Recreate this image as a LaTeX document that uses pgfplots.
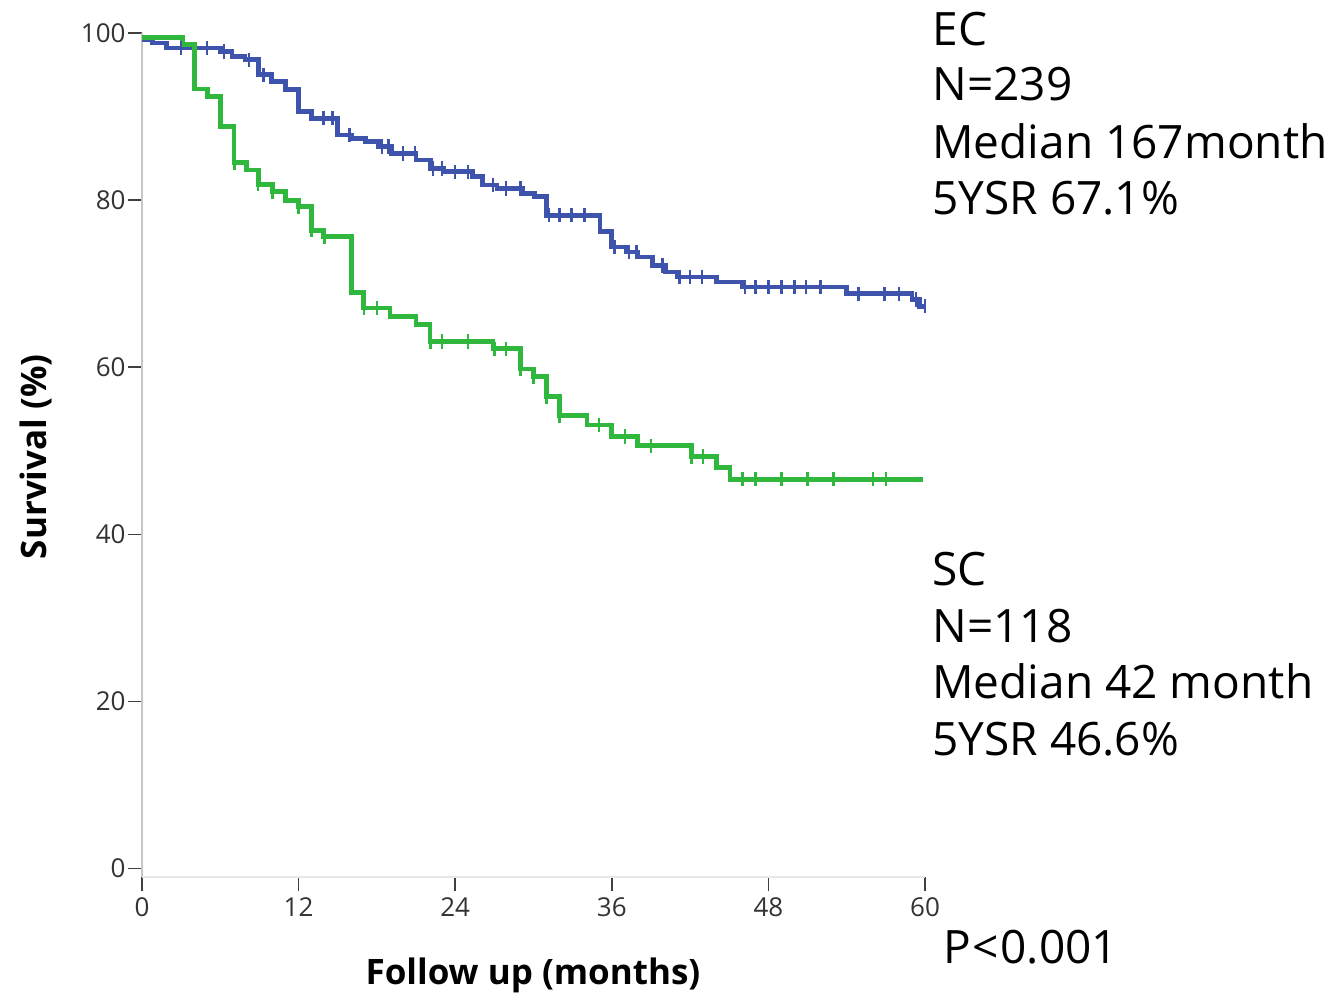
\documentclass[border=0pt]{standalone}
\usepackage{pgfplots}
\pgfplotsset{compat=1.18}
\usepackage{fontspec}
\setmainfont{Open Sans}

\definecolor{ecblue}{RGB}{62,84,172}
\definecolor{scgreen}{RGB}{48,184,62}

\begin{document}
\begin{tikzpicture}
\begin{axis}[
    scale only axis,
    width=391.5pt, height=422pt,
    xmin=0, xmax=60,
    ymin=-1, ymax=100,
    clip=false,
    axis x line*=bottom,
    axis y line*=left,
    x axis line style={draw=black!9, line width=1pt, -},
    y axis line style={draw=black!22, line width=1.4pt, -},
    xtick={0,12,24,36,48,60},
    ytick={0,20,40,60,80,100},
    tick align=outside,
    major tick length=7pt,
    tick style={draw=black!75, line width=0.8pt},
    ticklabel style={font=\fontsize{13}{15}\selectfont, text=black!80},
    /pgf/number format/assume math mode=true,
    yticklabel style={inner xsep=1pt},
    xticklabel style={inner ysep=3pt},
]
% EC (blue) Kaplan-Meier step curve
\addplot[const plot, color=ecblue, line width=2.4pt] coordinates {
    (0,99.2) (0.8,98.8) (1.9,98.2) (6.0,97.8) (6.9,97.2) (7.9,96.8)
    (8.9,95.0) (9.9,94.2) (11.0,93.2) (12.0,90.6) (13.0,89.8) (15.0,87.8)
    (16.1,87.4) (17.1,87.0) (18.1,86.4) (19.1,85.6) (21.0,84.8) (22.1,83.8)
    (23.1,83.4) (25.3,82.8) (26.1,81.8) (27.2,81.4) (29.2,80.8) (30.1,80.4)
    (31.0,78.2) (35.1,76.2) (36.0,74.4) (37.1,73.8) (38.0,73.2) (39.1,72.2)
    (40.1,71.4) (41.0,70.8) (44.0,70.2) (46.0,69.6) (54.0,68.8) (59.0,68.1)
    (59.6,67.3) (60.0,67.3)
};
% EC censored cases
\addplot[only marks, mark=|, mark size=3.6pt, color=ecblue,
    mark options={line width=1.2pt}] coordinates {
    (3.0,98.2) (5.0,98.2) (6.3,97.8) (8.2,96.8) (9.3,95.0) (13.9,89.8)
    (14.6,89.8) (15.9,87.8) (18.4,86.4) (18.9,86.4) (20.0,85.6) (20.9,85.6)
    (22.3,83.8) (23.0,83.8) (24.0,83.4) (25.0,83.4) (26.9,81.8) (27.9,81.4)
    (29.0,81.4) (31.2,78.2) (32.0,78.2) (32.9,78.2) (33.9,78.2) (36.2,74.4)
    (37.3,73.8) (37.9,73.8) (39.9,72.2) (41.2,70.8) (42.0,70.8) (42.9,70.8)
    (46.2,69.6) (47.0,69.6) (48.0,69.6) (49.0,69.6) (50.0,69.6) (50.9,69.6)
    (52.0,69.6) (54.9,68.8) (56.9,68.8) (58.0,68.8) (59.3,68.1) (60.0,67.3)
};
% SC (green) Kaplan-Meier step curve
\addplot[const plot, color=scgreen, line width=2.4pt] coordinates {
    (0,99.5) (3.1,98.6) (4.05,93.3) (5.05,92.4) (6.0,88.8) (7.05,84.5)
    (8.0,83.6) (8.9,81.9) (10.0,81.0) (11.0,80.0) (12.0,79.2) (13.0,76.4)
    (13.9,75.6) (16.07,68.9) (17.0,67.1) (19.0,66.1) (21.0,65.1) (22.07,63.1)
    (26.9,62.2) (29.0,59.8) (30.0,58.9) (31.0,56.5) (32.0,54.2) (34.1,53.1)
    (36.0,51.7) (38.0,50.6) (42.1,49.3) (44.0,48.0) (45.05,46.6) (59.85,46.6)
};
% SC censored cases
\addplot[only marks, mark=|, mark size=3.6pt, color=scgreen,
    mark options={line width=1.2pt}] coordinates {
    (7.1,84.5) (8.9,81.9) (10.0,81.0) (12.0,79.2) (13.0,76.4) (14.0,75.6)
    (17.0,67.1) (18.0,67.1) (22.1,63.1) (23.0,63.1) (25.0,63.1) (27.0,62.2)
    (27.9,62.2) (29.0,59.8) (30.0,58.9) (31.0,56.5) (32.0,54.2) (35.0,53.1)
    (37.0,51.7) (39.0,50.6) (42.1,49.3) (43.0,49.3) (46.0,46.6) (47.0,46.6)
    (49.0,46.6) (51.0,46.6) (53.0,46.6) (56.0,46.6) (57.0,46.6)
};

% axis titles
\node[anchor=base, inner sep=0pt, font=\fontsize{17.5}{20}\selectfont\bfseries]
    at (axis cs:29.96,-13.92) {Follow up (months)};
\node[anchor=base, rotate=90, inner sep=0pt, font=\fontsize{17.5}{20}\selectfont\bfseries]
    at (axis cs:-7.28,49.3) {Survival (\%)};

% annotations
\begin{scope}[every node/.style={anchor=base west, inner sep=0pt,
        font=\fontsize{23}{27}\selectfont}]
\node at (axis cs:60.54,98.56) {EC};
\node at (axis cs:60.54,91.98) {N=239};
\node at (axis cs:60.54,85.04) {Median 167month};
\node at (axis cs:60.54,78.22) {5YSR 67.1\%};
\node at (axis cs:60.54,33.94) {SC};
\node at (axis cs:60.54,27.12) {N=118};
\node at (axis cs:60.54,20.42) {Median 42 month};
\node at (axis cs:60.54,13.59) {5YSR 46.6\%};
\node at (axis cs:61.38,-11.30) {P\kern0.8pt<\kern0.8pt0.001};
\end{scope}

% page extent
\path (axis cs:-10.88,103.95) rectangle (axis cs:91.57,-14.88);
\end{axis}
\end{tikzpicture}
\end{document}
